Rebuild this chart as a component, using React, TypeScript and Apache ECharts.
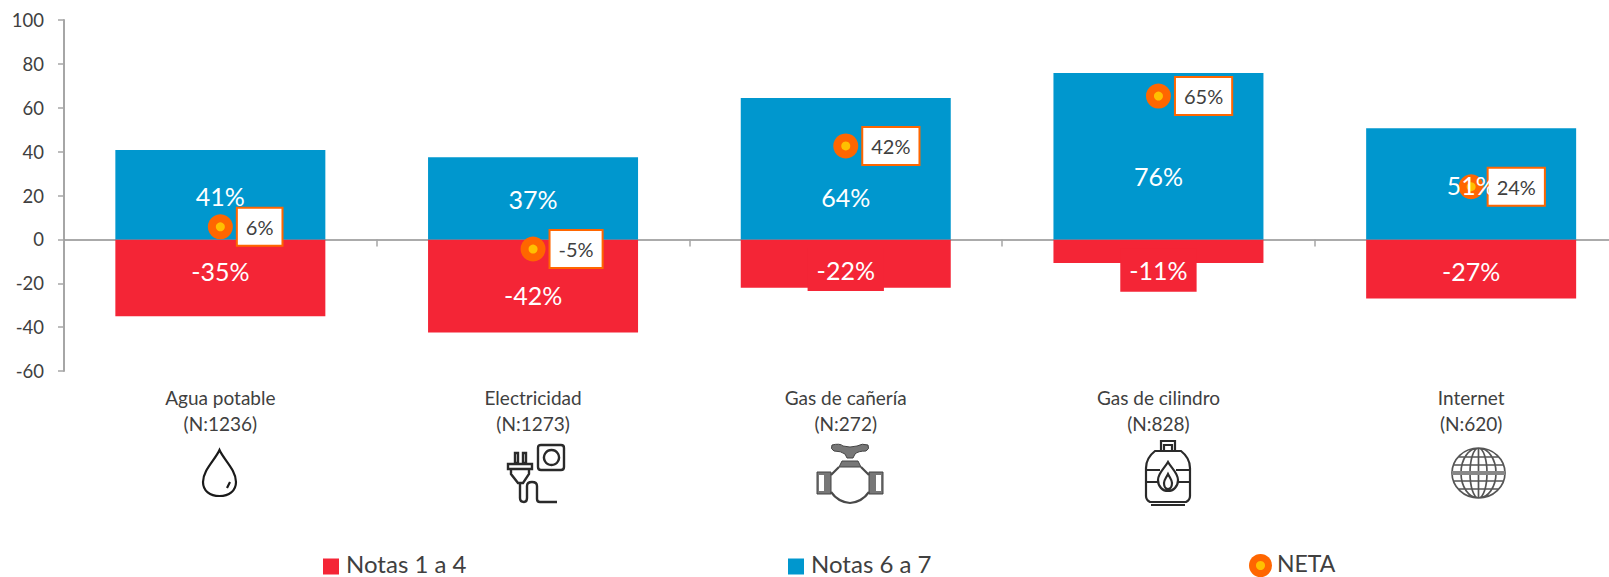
import React, { useEffect, useRef } from "react";
import * as echarts from "echarts";

const categories = ["Agua potable", "Electricidad", "Gas de cañería", "Gas de cilindro", "Internet"];
const sampleSizes = [1236, 1273, 272, 828, 620];
const notas14 = [-35, -42.4, -22, -10.8, -26.9];
const notas67 = [40.7, 37.4, 64.4, 75.8, 50.6];
const neta = [5.7, -4.4, 42.6, 65.3, 24];
const netaLabels = ["6%", "-5%", "42%", "65%", "24%"];
const yTicks = { min: -60, max: 100, interval: 20 };

// hand-moved data labels in the reference (px from the bar's centre)
const lowLabelShift = [-7, 9, 6, 19, 2];
const highLabelShift = [1, 1, 28, 20, 1];
const lowLabelBoxed = [false, false, true, true, false];

const RED = "#F42536";
const BLUE = "#0097CE";
const ORANGE = "#FF6600";
const YELLOW = "#FFC000";
const TEXT = "#404040";
const FONT = "Lato, 'Open Sans', sans-serif";

// legend markers sit a little below the centre of their text
const LEGEND_SQUARE = "path://M0 0L0 0M0 7H16V23H0Z";
const LEGEND_DOT = "path://M0 0L0 0M0 16.5A11.5 11.5 0 1 1 23 16.5A11.5 11.5 0 1 1 0 16.5Z";

const ICONS: Record<string, string> = {
  iconDrop:
    "M17.5 1C13 11 1 21 1 33C1 42 8 47 17.5 47C27 47 34 42 34 33C34 21 22 11 17.5 1ZM25 39L28 33",
  iconPlug:
    "M34 1H54Q57 1 57 4V23Q57 26 54 26H34Q31 26 31 23V4Q31 1 34 1ZM44.500 6A7.500 7.500 0 1 1 44.499 6ZM8 9H11V19H8ZM16 9H19V19H16ZM1 20H25V25H1ZM4 25V30L11 39H16L22 30V25M13 39V54Q13 58 17 58Q20 58 20 54V42Q20 38 25 38Q30 38 30 42V55Q30 58 33 58H50",
  iconValveFill:
    "M16 3Q24 1 27 4Q34 6 41 4Q46 1 52 3Q54 7 50 9Q42 9 39 12L37 16H31L29 12Q25 9 18 9Q14 7 16 3ZM26 19H42L45 25H23ZM1 30H15V52H1ZM53 30H67V52H53Z",
  iconValveWindow: "M3 33H8V49H3ZM60 33H65V49H60Z",
  iconValve:
    "M23 25Q18 30 15 33M45 25Q50 30 53 33M15 50Q22 60 34 61Q46 60 53 50",
  iconCylinder:
    "M16 1H30V11H16ZM19 5H27V11H19ZM10 11H36Q45 18 45 28V56Q45 60 41 62H5Q1 60 1 56V28Q1 18 10 11ZM1 30H15M31 30H45M1 42H13M33 42H45M6 65H40M23 22C27 29 33 33 33 40C33 47 28 51 23 51C18 51 13 47 13 40C13 33 19 29 23 22ZM23 34C25 38 27 40 27 43C27 47 25 49 23 49C21 49 19 47 19 43C19 40 21 38 23 34Z",
  iconGlobe:
    "M0 25A26.500 25 0 1 1 53 25A26.500 25 0 1 1 0 25ZM9 25A17.500 25 0 1 1 44 25A17.500 25 0 1 1 9 25ZM18 25A8.500 25 0 1 1 35 25A8.500 25 0 1 1 18 25ZM26.500 0V50M6 9H47M2 17H51M2 33H51M6 41H47",
  iconGlobeBand: "M0 25H53",
};
Object.keys(ICONS).forEach((name) => {
  echarts.graphic.registerShape(name, echarts.graphic.extendPath(ICONS[name] as any, {}) as any);
});

const pct = (p: any) => `${Math.round(p.value)}%`;

export default function App() {
  const ref = useRef<HTMLDivElement>(null);
  useEffect(() => {
    const chart = echarts.init(ref.current!, undefined, { renderer: "svg" });
    const barCommon = { barWidth: 210, barGap: "-100%", animation: false };
    const iconStroke = (width: number, stroke = "#1a1a1a") => ({ fill: "none", stroke, lineWidth: width });
    const legendBase = { padding: 0, selectedMode: false };
    chart.setOption({
      animation: false,
      backgroundColor: "#ffffff",
      textStyle: { fontFamily: FONT },
      grid: { left: 64, top: 20, width: 1563.5, height: 351, containLabel: false, outerBoundsMode: "none" },
      legend: [
        {
          ...legendBase,
          data: ["Notas 1 a 4"],
          left: 323,
          top: 551,
          icon: LEGEND_SQUARE,
          itemWidth: 16,
          itemHeight: 23,
          textStyle: { color: TEXT, fontFamily: FONT, fontSize: 24, padding: [0, 0, 0, 2] },
        },
        {
          ...legendBase,
          data: ["Notas 6 a 7"],
          left: 788,
          top: 551,
          icon: LEGEND_SQUARE,
          itemWidth: 16,
          itemHeight: 23,
          textStyle: { color: TEXT, fontFamily: FONT, fontSize: 24, padding: [0, 0, 0, 2] },
        },
        {
          ...legendBase,
          data: ["NETA"],
          left: 1249,
          top: 549,
          icon: LEGEND_DOT,
          itemWidth: 23,
          itemHeight: 28,
          textStyle: { color: TEXT, fontFamily: FONT, fontSize: 23 },
        },
      ],
      xAxis: {
        type: "category",
        data: categories,
        axisLine: { onZero: true, lineStyle: { color: "#8F8F8F", width: 1.5 } },
        axisTick: { show: true, length: 7, alignWithLabel: false, lineStyle: { color: "#A6A6A6", width: 1.5 } },
        axisLabel: {
          margin: 13,
          interval: 0,
          color: TEXT,
          fontFamily: FONT,
          fontSize: 19,
          lineHeight: 26,
          formatter: (v: string, i: number) => `${v}\n(N:${sampleSizes[i]})`,
        },
        splitLine: { show: false },
      },
      yAxis: {
        type: "value",
        min: yTicks.min,
        max: yTicks.max,
        interval: yTicks.interval,
        axisLine: { show: true, lineStyle: { color: "#A6A6A6", width: 2 } },
        axisTick: { show: true, length: 6, lineStyle: { color: "#A6A6A6", width: 1.5 } },
        axisLabel: { margin: 20, color: TEXT, fontFamily: FONT, fontSize: 18.5 },
        splitLine: { show: false },
      },
      series: [
        { ...barCommon, type: "bar", name: "Notas 1 a 4", stack: "solid", z: 1, data: notas14, itemStyle: { color: RED } },
        { ...barCommon, type: "bar", name: "Notas 6 a 7", stack: "solid", z: 1, data: notas67, itemStyle: { color: BLUE } },
        {
          type: "scatter",
          name: "NETA",
          z: 2,
          symbol: "circle",
          symbolSize: 25,
          data: neta,
          itemStyle: { color: ORANGE, opacity: 1 },
          label: {
            show: true,
            position: "right",
            distance: 5,
            formatter: (p: any) => netaLabels[p.dataIndex],
            color: TEXT,
            fontFamily: FONT,
            fontSize: 20,
            backgroundColor: "#ffffff",
            borderColor: ORANGE,
            borderWidth: 2,
            padding: [8, 8],
            opacity: 1,
          },
        },
        {
          type: "scatter",
          name: "NETA centro",
          z: 3,
          symbol: "circle",
          symbolSize: 9,
          silent: true,
          data: neta,
          itemStyle: { color: YELLOW, opacity: 1 },
        },
        {
          ...barCommon,
          type: "bar",
          name: "Etiquetas bajas",
          stack: "labels",
          z: 4,
          silent: true,
          itemStyle: { color: "transparent" },
          data: notas14.map((value, i) => ({
            value,
            label: {
              show: true,
              position: "inside",
              offset: [0, lowLabelShift[i]],
              formatter: pct,
              color: "#ffffff",
              fontFamily: FONT,
              fontSize: 25,
              ...(lowLabelBoxed[i] ? { backgroundColor: RED, padding: [9, 9] } : {}),
            },
          })),
        },
        {
          ...barCommon,
          type: "bar",
          name: "Etiquetas altas",
          stack: "labels",
          z: 4,
          silent: true,
          itemStyle: { color: "transparent" },
          data: notas67.map((value, i) => ({
            value,
            label: {
              show: true,
              position: "inside",
              offset: [0, highLabelShift[i]],
              formatter: pct,
              color: "#ffffff",
              fontFamily: FONT,
              fontSize: 25,
            },
          })),
        },
      ],
      graphic: {
        elements: [
          { type: "circle", x: 1260.5, y: 565.5, z: 20, zlevel: 0, shape: { cx: 0, cy: 0, r: 4.5 }, style: { fill: YELLOW }, silent: true },
          { type: "iconDrop", x: 202, y: 449, style: iconStroke(2.2), silent: true },
          { type: "iconPlug", x: 507, y: 444, style: iconStroke(2.4, "#2a2a2a"), silent: true },
          { type: "iconValveFill", x: 816, y: 442, style: { fill: "#777777", stroke: "#444444", lineWidth: 1 }, silent: true },
          { type: "iconValveWindow", x: 816, y: 442, z: 1, style: { fill: "#ffffff" }, silent: true },
          { type: "iconValve", x: 816, y: 442, z: 1, style: iconStroke(2.2, "#4a4a4a"), silent: true },
          { type: "iconCylinder", x: 1145, y: 440, style: iconStroke(2.2, "#2a2a2a"), silent: true },
          { type: "iconGlobe", x: 1452, y: 448, style: iconStroke(1.7, "#555555"), silent: true },
          { type: "iconGlobeBand", x: 1452, y: 448, style: iconStroke(4, "#888888"), silent: true },
        ],
      },
    });
    return () => chart.dispose();
  }, []);
  return (
    <div
      ref={ref}
      style={{ position: "fixed", left: 0, top: 0, width: 1609, height: 577, overflow: "hidden", background: "#fff" }}
    />
  );
}
